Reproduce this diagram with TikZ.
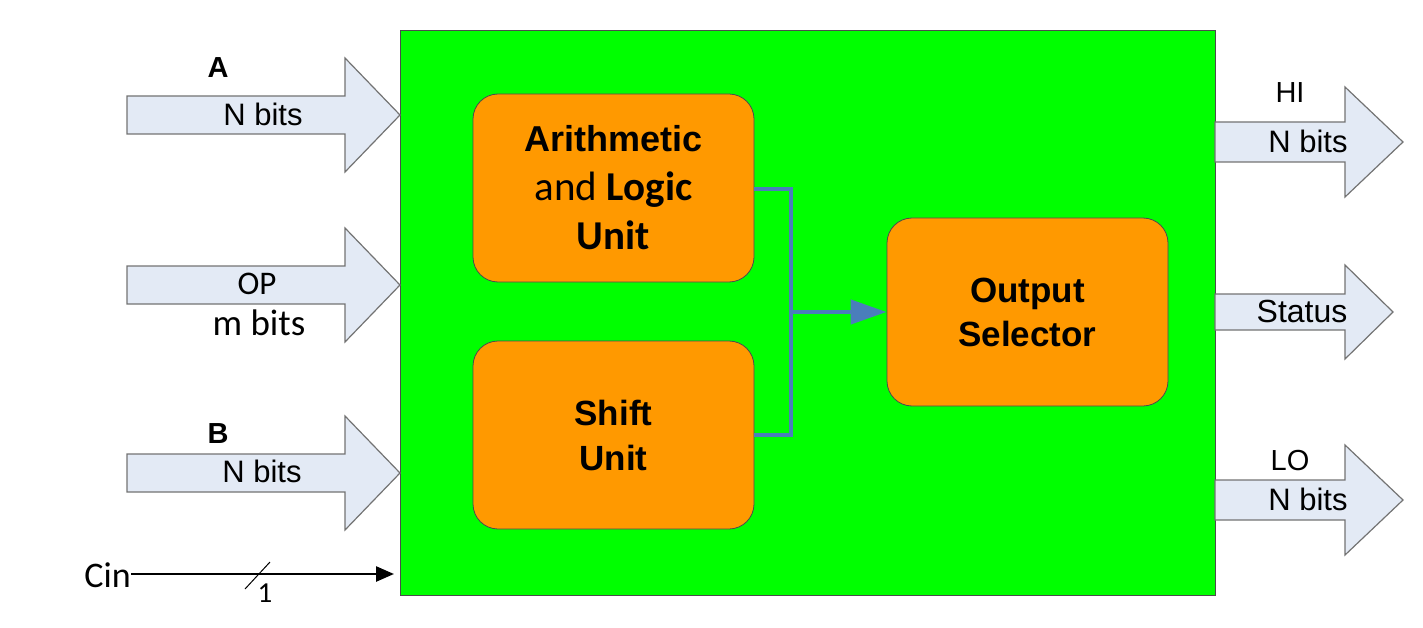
\documentclass[tikz,border=0pt]{standalone}
\usepackage{fontspec}
\setmainfont{Liberation Sans}
\newfontfamily\calib{Carlito}
\usetikzlibrary{arrows.meta}
\definecolor{corefill}{HTML}{00FF00}
\definecolor{boxfill}{HTML}{FF9900}
\definecolor{busfill}{HTML}{E3EAF5}
\definecolor{wire}{HTML}{4A7EBB}
\tikzset{
  unitbox/.style={draw=black!70, line width=0.8pt, fill=boxfill, rounded corners=25pt,
    minimum width=281pt, minimum height=188pt, inner sep=0pt, align=center},
  bus/.style={draw=black!55, line width=1.2pt, fill=busfill},
  lbl/.style={inner sep=0pt, anchor=center},
  arial/.style={font=\fontsize{31}{34}\selectfont},
  tag/.style={font=\fontsize{29}{32}\selectfont\bfseries},
}
\newcommand{\busarrow}[6]{%
  \draw[bus] (#1,{#4-#5}) -- (#2,{#4-#5}) -- (#2,{#4-#6}) -- (#3,#4) -- (#2,{#4+#6}) -- (#2,{#4+#5}) -- (#1,{#4+#5}) -- cycle;}
\newcommand{\ab}[1]{{\fontsize{35}{45}\selectfont\bfseries #1}}
\newcommand{\cb}[1]{{\calib\fontsize{41}{45}\selectfont #1}}
\begin{document}
\begin{tikzpicture}[x=1pt,y=-1pt]
\useasboundingbox (0,0) rectangle (1423,628);
% core
\node[draw=black!70, line width=0.8pt, fill=corefill, minimum width=815pt, minimum height=565pt, inner sep=0pt] (core) at (807.5,312.5) {};
% input buses
\busarrow{127}{345}{400}{115}{19}{57}
\busarrow{127}{345}{400}{285}{19}{57}
\busarrow{127}{345}{400}{473}{19}{57}
% output buses
\busarrow{1215}{1345}{1403}{142}{20}{55}
\busarrow{1215}{1345}{1393}{312}{18}{47}
\busarrow{1215}{1345}{1403}{500}{20}{55}
% input labels
\node[lbl,tag] (la) at (218,68) {A};
\node[lbl,arial] (na) at (263,114) {N bits};
\node[lbl,font=\calib\fontsize{33}{36}\selectfont] (lop) at (257,284) {OP};
\node[lbl,font=\calib\fontsize{37}{40}\selectfont] (mop) at (259,323) {m bits};
\node[lbl,tag] (lb) at (218,434) {B};
\node[lbl,arial] (nb) at (262,471) {N bits};
% output labels
\node[lbl,font=\fontsize{29}{32}\selectfont] (lhi) at (1290,93) {HI};
\node[lbl,arial] (nhi) at (1308,141) {N bits};
\node[lbl,font=\fontsize{32}{34}\selectfont] (lst) at (1302,311) {Status};
\node[lbl,font=\fontsize{29}{32}\selectfont] (llo) at (1290,461) {LO};
\node[lbl,arial] (nlo) at (1308,499) {N bits};
% Cin
\node[lbl,font=\calib\fontsize{36}{38}\selectfont, anchor=east] (cin) at (131,575) {Cin};
\coordinate (cinend) at (394,574);
\draw[line width=2.5pt, -{Triangle[length=18pt,width=15pt]}] (cin.east |- cinend) -- (cinend);
\coordinate (tk1) at (245,589);
\coordinate (tk2) at (270,562);
\draw[line width=1pt] (tk1) -- (tk2);
\node[lbl,font=\calib\fontsize{29}{30}\selectfont] (one) at (265,593) {1};
% units
\node[unitbox, font=\fontsize{35}{49}\selectfont] (alu) at (613.5,188) {%
  {\fontsize{36}{45}\selectfont\bfseries Arithmetic}\\
  \cb{and \bfseries Logic}\\
  \cb{\bfseries Unit}};
\node[unitbox, font=\fontsize{35}{45}\selectfont] (shift) at (613.5,435) {%
  \ab{Shift}\\
  \ab{Unit}};
\node[unitbox, font=\fontsize{35}{44}\selectfont] (outsel) at (1027.5,312) {%
  \ab{Output}\\
  \ab{Selector}};
% connectors
\coordinate (jn) at (791,312);
\draw[wire, line width=4.5pt] (alu.east |- 0,189) -| (jn) |- (shift.east);
\draw[wire, line width=4.5pt, -{Triangle[length=36pt,width=24pt]}] (jn) -- (outsel.west);
\end{tikzpicture}
\end{document}
